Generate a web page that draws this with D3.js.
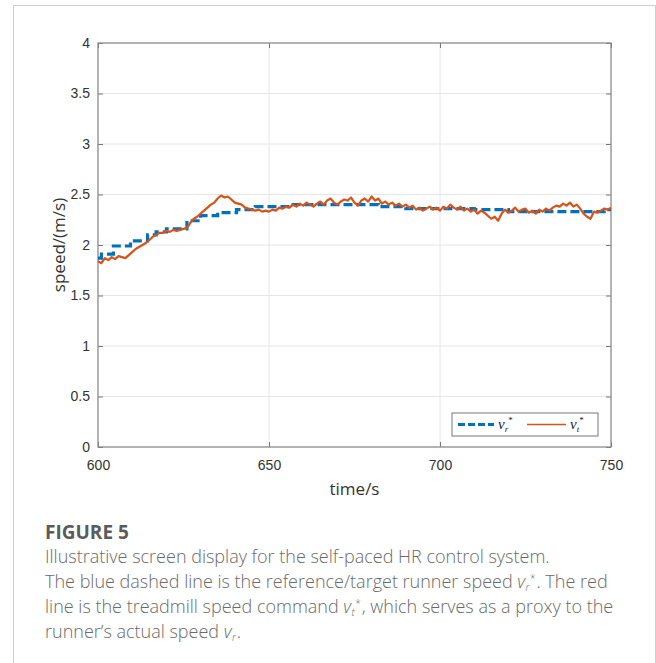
<!DOCTYPE html>
<html>
<head>
<meta charset="utf-8">
<script src="https://cdn.jsdelivr.net/npm/d3@7"></script>
<style>
  body { margin: 0; background: #fff; }
  svg { display: block; }
  .cap text { white-space: pre; }
</style>
</head>
<body>
<svg id="chart" width="656" height="663"></svg>
<script>
// reference speed v_r* (staircase, step times)
const refTimes  = [600, 601, 604.5, 609.5, 614.5, 617, 620, 626, 630, 635, 640.5, 646, 656, 682, 690, 710, 720, 748, 750];
const refSpeeds = [1.87, 1.91, 1.99, 2.04, 2.10, 2.13, 2.16, 2.24, 2.29, 2.32, 2.35, 2.38, 2.40, 2.38, 2.36, 2.35, 2.33, 2.35, 2.35];

// treadmill command v_t*, one reading per second from 600 s
const cmdStart = 600;
const cmdSpeeds = [
  1.84, 1.82, 1.87, 1.85, 1.88, 1.86, 1.89, 1.88, 1.87, 1.90,
  1.93, 1.96, 1.98, 2.00, 2.02, 2.05, 2.08, 2.10, 2.12, 2.12,
  2.14, 2.13, 2.15, 2.14, 2.15, 2.16, 2.17, 2.22, 2.26, 2.28,
  2.31, 2.34, 2.37, 2.40, 2.42, 2.46, 2.49, 2.47, 2.48, 2.45,
  2.42, 2.41, 2.40, 2.37, 2.36, 2.35, 2.34, 2.35, 2.33, 2.34,
  2.33, 2.35, 2.34, 2.37, 2.36, 2.38, 2.37, 2.40, 2.38, 2.41,
  2.39, 2.42, 2.40, 2.38, 2.41, 2.43, 2.40, 2.44, 2.46, 2.42,
  2.40, 2.43, 2.45, 2.44, 2.47, 2.42, 2.39, 2.44, 2.46, 2.43,
  2.48, 2.44, 2.46, 2.41, 2.43, 2.40, 2.42, 2.39, 2.41, 2.38,
  2.40, 2.37, 2.39, 2.35, 2.37, 2.34, 2.36, 2.38, 2.35, 2.37,
  2.34, 2.38, 2.36, 2.40, 2.37, 2.35, 2.38, 2.34, 2.36, 2.33,
  2.35, 2.31, 2.34, 2.32, 2.29, 2.26, 2.28, 2.24, 2.31, 2.35,
  2.32, 2.34, 2.37, 2.33, 2.35, 2.36, 2.32, 2.34, 2.31, 2.35,
  2.33, 2.36, 2.34, 2.37, 2.39, 2.38, 2.41, 2.39, 2.42, 2.38,
  2.40, 2.36, 2.31, 2.28, 2.26, 2.33, 2.32, 2.34, 2.36, 2.35,
  2.37
];

const xTicks = [600, 650, 700, 750];
const yTicks = [0, 0.5, 1, 1.5, 2, 2.5, 3, 3.5, 4];

const svg = d3.select('#chart');

// outer figure frame
svg.append('rect')
  .attr('x', 13.5).attr('y', 5.5)
  .attr('width', 642).attr('height', 680)
  .attr('fill', 'none')
  .attr('stroke', '#cfcfcf');

const pLeft = 98, pRight = 611, pTop = 43, pBottom = 447;

const x = d3.scaleLinear().domain([600, 750]).range([pLeft, pRight]);
const y = d3.scaleLinear().domain([0, 4]).range([pBottom, pTop]);

// grid
svg.append('g')
  .selectAll('line')
  .data(xTicks.slice(1, -1))
  .enter().append('line')
  .attr('x1', d => x(d)).attr('x2', d => x(d))
  .attr('y1', pTop).attr('y2', pBottom)
  .attr('stroke', '#e6e6e6');

svg.append('g')
  .selectAll('line')
  .data(yTicks.slice(1, -1))
  .enter().append('line')
  .attr('x1', pLeft).attr('x2', pRight)
  .attr('y1', d => y(d)).attr('y2', d => y(d))
  .attr('stroke', '#e6e6e6');

// axes with inward ticks, mirrored on top/right
const axisStyle = g => {
  g.select('.domain').remove();
  g.selectAll('.tick line').attr('stroke', '#777');
  g.selectAll('.tick text')
    .attr('fill', '#333')
    .style('font-family', '"Liberation Sans", Arial, sans-serif')
    .style('font-size', '14px');
};

svg.append('g')
  .attr('transform', `translate(0,${pBottom})`)
  .call(d3.axisBottom(x).tickValues(xTicks).tickSize(-5).tickPadding(13).tickFormat(d3.format('d')))
  .call(axisStyle);

svg.append('g')
  .attr('transform', `translate(0,${pTop})`)
  .call(d3.axisTop(x).tickValues(xTicks).tickSize(-5).tickFormat(''))
  .call(axisStyle);

svg.append('g')
  .attr('transform', `translate(${pLeft},0)`)
  .call(d3.axisLeft(y).tickValues(yTicks).tickSize(-5).tickPadding(8).tickFormat(d => d))
  .call(axisStyle);

svg.append('g')
  .attr('transform', `translate(${pRight},0)`)
  .call(d3.axisRight(y).tickValues(yTicks).tickSize(-5).tickFormat(''))
  .call(axisStyle);

// plot box
svg.append('rect')
  .attr('x', pLeft).attr('y', pTop)
  .attr('width', pRight - pLeft).attr('height', pBottom - pTop)
  .attr('fill', 'none')
  .attr('stroke', '#8a8a8a')
  .attr('stroke-width', 1.3);

// series
const refData = refTimes.map((t, i) => [t, refSpeeds[i]]);
const cmdData = cmdSpeeds.map((v, i) => [cmdStart + i, v]);

svg.append('path')
  .datum(refData)
  .attr('d', d3.line().x(d => x(d[0])).y(d => y(d[1])).curve(d3.curveStepAfter))
  .attr('fill', 'none')
  .attr('stroke', '#0072BD')
  .attr('stroke-width', 3.2)
  .attr('stroke-dasharray', '9,4');

svg.append('path')
  .datum(cmdData)
  .attr('d', d3.line().x(d => x(d[0])).y(d => y(d[1])))
  .attr('fill', 'none')
  .attr('stroke', '#D95319')
  .attr('stroke-width', 2.2)
  .attr('stroke-linejoin', 'round');

// legend
const lg = svg.append('g').attr('transform', 'translate(452,413)');
lg.append('rect')
  .attr('width', 146).attr('height', 23)
  .attr('fill', '#fff')
  .attr('stroke', '#777');
lg.append('line')
  .attr('x1', 6).attr('x2', 42).attr('y1', 11.5).attr('y2', 11.5)
  .attr('stroke', '#0072BD').attr('stroke-width', 3).attr('stroke-dasharray', '7,3');
lg.append('line')
  .attr('x1', 75).attr('x2', 114).attr('y1', 11.5).attr('y2', 11.5)
  .attr('stroke', '#D95319').attr('stroke-width', 1.6);

const mathLabel = (g, lx, sub) => {
  const t = g.append('text')
    .attr('x', lx).attr('y', 16)
    .style('font-family', '"Liberation Serif", "DejaVu Serif", serif')
    .style('font-style', 'italic')
    .style('font-size', '15px')
    .attr('fill', '#222');
  t.append('tspan').text('v');
  t.append('tspan').attr('dy', 3).style('font-size', '9px').text(sub);
  t.append('tspan').attr('dy', -9).style('font-size', '9px').style('font-style', 'normal').text('*');
};
mathLabel(lg, 46, 'r');
mathLabel(lg, 118, 't');

// axis labels
const labelFont = '"Open Sans", "Noto Sans", sans-serif';
svg.append('text')
  .attr('transform', 'translate(65,245) rotate(-90)')
  .attr('text-anchor', 'middle')
  .style('font-family', labelFont)
  .style('font-size', '17px')
  .attr('fill', '#333')
  .text('speed/(m/s)');

svg.append('text')
  .attr('x', x(675)).attr('y', 495)
  .attr('text-anchor', 'middle')
  .style('font-family', labelFont)
  .style('font-size', '17px')
  .attr('fill', '#333')
  .text('time/s');

// caption
svg.append('text')
  .attr('x', 45).attr('y', 539)
  .style('font-family', labelFont)
  .style('font-weight', 'bold')
  .style('font-size', '19px')
  .attr('fill', '#5b5b5b')
  .text('FIGURE 5');

const cap = svg.append('g')
  .attr('class', 'cap')
  .style('font-family', labelFont)
  .style('font-size', '18px')
  .style('font-weight', 300)
  .attr('fill', '#6a6a6a');

// each piece is its own text element, placed after the previous one
const capLine = (yy, parts) => {
  let cx = 45;
  const put = (str, dy, size, italic) => {
    const t = cap.append('text')
      .attr('x', cx).attr('y', yy + dy)
      .style('font-size', size ? size + 'px' : null)
      .style('font-style', italic ? 'italic' : null)
      .text(str);
    cx += t.node().getComputedTextLength();
  };
  parts.forEach(p => {
    if (typeof p === 'string') { put(p, 0); return; }
    put('v', 0, null, true);
    cx += 0.5;
    put(p.sub, 3, 10, true);
    if (p.star) { cx += 0.5; put('*', -6, 10); }
    cx += 1;
  });
};

capLine(563, ['Illustrative screen display for the self-paced HR control system.']);
capLine(588, ['The blue dashed line is the reference/target runner speed ', {sub: 'r', star: true}, '. The red']);
capLine(613, ['line is the treadmill speed command ', {sub: 't', star: true}, ', which serves as a proxy to the']);
capLine(638, ['runner\u2019s actual speed ', {sub: 'r', star: false}, '.']);
</script>
</body>
</html>
